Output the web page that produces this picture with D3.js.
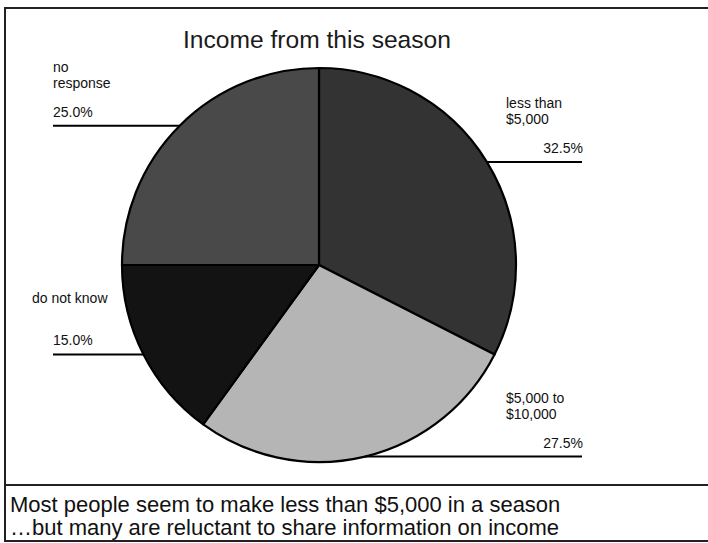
<!DOCTYPE html>
<html>
<head>
<meta charset="utf-8">
<script src="https://cdn.jsdelivr.net/npm/d3@7"></script>
<style>
	body { margin: 0; background: #fff; }
	svg { display: block; font-family: "Liberation Sans", Arial, sans-serif; }
</style>
</head>
<body>
<div id="chart"></div>
<script>
// data
var categories = ['less than\n$5,000', '$5,000 to\n$10,000', 'do not know', 'no\nresponse'];
var shares = [32.5, 27.5, 15.0, 25.0];
var sliceColors = ['#333333', '#b5b5b5', '#131313', '#494949'];
var titleText = 'Income from this season';
var notes = ['Most people seem to make less than $5,000 in a season', '\u2026but many are reluctant to share information on income'];

var width = 708,
	height = 543;
var frame = { left: 5, top: 8, split: 485, bottom: 541 };
var cx = 319,
	cy = 265,
	radius = 197;
// where the label text column sits
var leftEdge = 53,
	rightEdge = 582,
	rightText = 506;
var labelDx = [0, 0, -21, 0]; // small nudges of the text block

var svg = d3.select('#chart').append('svg')
	.attr('width', width)
	.attr('height', height);

// frame
svg.append('path')
	.attr('d', 'M' + (width + 5) + ',' + frame.top + 'H' + frame.left + 'V' + frame.bottom + 'H' + (width + 5))
	.attr('fill', 'none')
	.attr('stroke', '#222')
	.attr('stroke-width', 2);
svg.append('line')
	.attr('x1', frame.left).attr('x2', width + 5)
	.attr('y1', frame.split).attr('y2', frame.split)
	.attr('stroke', '#222')
	.attr('stroke-width', 2);

svg.append('text')
	.attr('x', 317)
	.attr('y', 48)
	.attr('text-anchor', 'middle')
	.style('font-size', '24.6px')
	.attr('fill', '#1a1a1a')
	.text(titleText);

// pie
var pie = d3.pie().sort(null).value(d => d);
var arcs = pie(shares);
var arc = d3.arc().innerRadius(0).outerRadius(radius);

var g = svg.append('g')
	.attr('transform', 'translate(' + cx + ',' + cy + ')');

g.selectAll('path')
	.data(arcs)
	.enter()
	.append('path')
	.attr('d', arc)
	.attr('fill', (d, i) => sliceColors[i])
	.attr('stroke', '#000')
	.attr('stroke-width', 2.2)
	.attr('stroke-linejoin', 'round');

// labels: leader line leaves the rim at the slice's mid angle
var labels = svg.append('g').style('font-size', '14px').attr('fill', '#111');
arcs.forEach((d, i) => {
	let mid = (d.startAngle + d.endAngle) / 2;
	let ex = cx + radius * Math.sin(mid);
	let ey = cy - radius * Math.cos(mid);
	let right = ex > cx;
	labels.append('line')
		.attr('x1', ex).attr('y1', ey)
		.attr('x2', right ? rightEdge : leftEdge).attr('y2', ey)
		.attr('stroke', '#000')
		.attr('stroke-width', 2);
	labels.append('text')
		.attr('x', right ? rightEdge + 1 : leftEdge)
		.attr('y', ey - 9)
		.attr('text-anchor', right ? 'end' : 'start')
		.text(d3.format('.1f')(shares[i]) + '%');
	let lines = categories[i].split('\n');
	let top = lines.length == 1 ? ey - 51 : ey - 54;
	let t = labels.append('text')
		.attr('x', (right ? rightText : leftEdge) + labelDx[i])
		.attr('y', top);
	lines.forEach((s, j) => {
		t.append('tspan')
			.attr('x', (right ? rightText : leftEdge) + labelDx[i])
			.attr('dy', j == 0 ? 0 : 16)
			.text(s);
	});
});

// notes under the chart
svg.append('g')
	.selectAll('text')
	.data(notes)
	.enter()
	.append('text')
	.attr('x', 10)
	.attr('y', (d, i) => 512 + i * 23)
	.style('font-size', '22px')
	.attr('fill', '#111')
	.text(String);
</script>
</body>
</html>
